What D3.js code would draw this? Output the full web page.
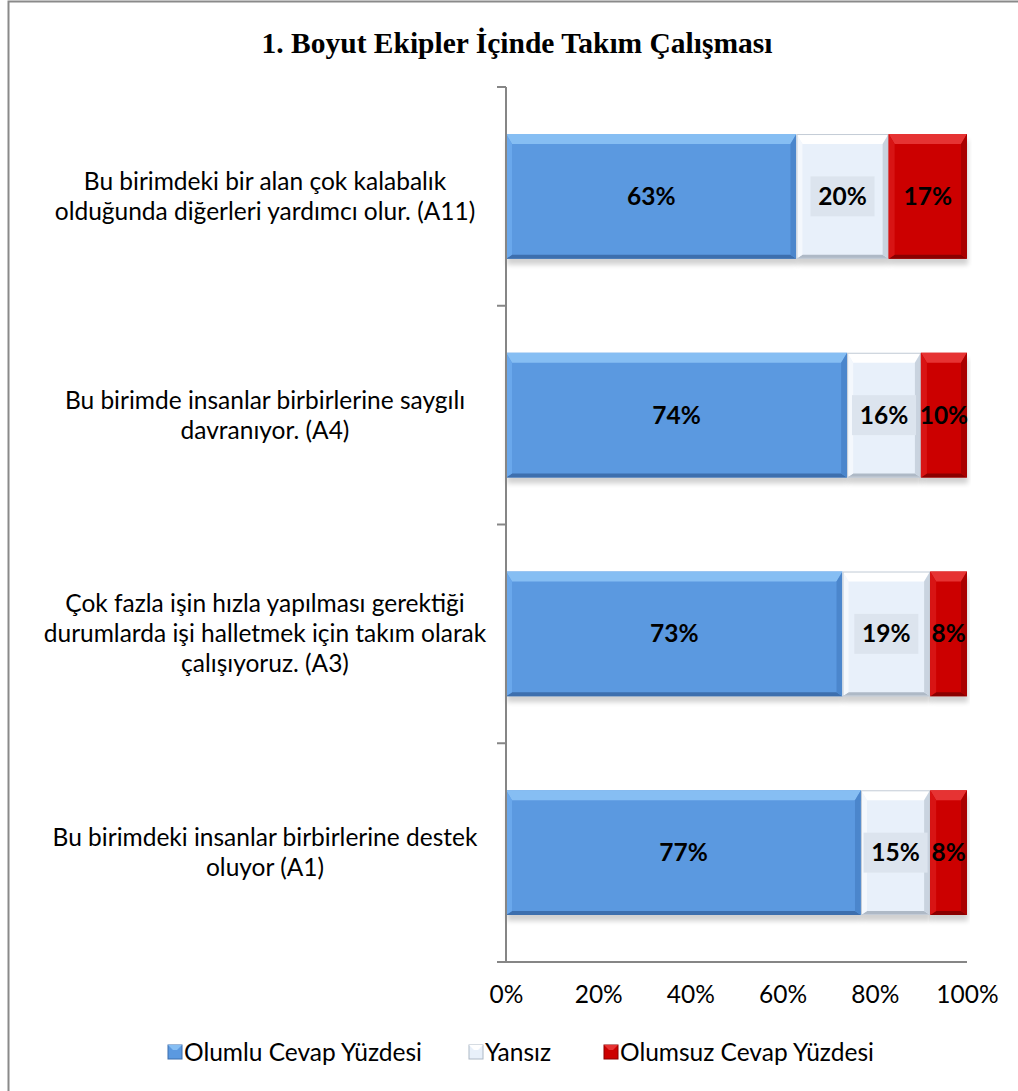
<!DOCTYPE html>
<html>
<head>
<meta charset="utf-8">
<script src="https://cdn.jsdelivr.net/npm/d3@7"></script>
<style>
  body { margin: 0; background: #fff; }
  svg { display: block; }
</style>
</head>
<body>
<div id="chart"></div>
<script>
// data
const categories = [
  ["Bu birimdeki bir alan çok kalabalık", "olduğunda diğerleri yardımcı olur. (A11)"],
  ["Bu birimde insanlar birbirlerine saygılı", "davranıyor. (A4)"],
  ["Çok fazla işin hızla yapılması gerektiği", "durumlarda işi halletmek için takım olarak", "çalışıyoruz. (A3)"],
  ["Bu birimdeki insanlar birbirlerine destek", "oluyor (A1)"]
];
const keys = ["A11", "A4", "A3", "A1"];
const olumlu = [63, 74, 73, 77];
const yansiz = [20, 16, 19, 15];
const olumsuz = [17, 10, 8, 8];
const seriesNames = ["Olumlu Cevap Yüzdesi", "Yansız", "Olumsuz Cevap Yüzdesi"];
const tickValues = [0, 20, 40, 60, 80, 100];

const W = 1018, H = 1091;
const margin = {top: 87, left: 506, right: 51, bottom: 129};
const fontSize = "24.5px";

// colours per series: main, top, left, right, bottom
const pal = [
  {main: "#5b99e0", top: "#86bef3", left: "#6aa8ec", right: "#4b86cc", bottom: "#3d6fae"},
  {main: "#e8f0fa", top: "#ffffff", left: "#f4f8fd", right: "#c9d3df", bottom: "#aeb9c6"},
  {main: "#cc0000", top: "#e63333", left: "#d81414", right: "#a90000", bottom: "#8a0000"}
];

const svg = d3.select("#chart").append("svg")
  .attr("width", W)
  .attr("height", H)
  .style("font-family", "Lato, 'Open Sans', sans-serif");

const defs = svg.append("defs");
defs.append("filter").attr("id", "shadow")
  .attr("x", "-5%").attr("y", "-10%").attr("width", "110%").attr("height", "130%")
  .append("feGaussianBlur").attr("stdDeviation", 2.5);

// outer frame
svg.append("rect")
  .attr("x", 8.5).attr("y", 1.5)
  .attr("width", W + 20).attr("height", H + 20)
  .attr("fill", "#fff").attr("stroke", "#8a8a8a").attr("stroke-width", 2);

// title
svg.append("text")
  .attr("x", 517).attr("y", 53)
  .attr("text-anchor", "middle")
  .style("font-family", "'Liberation Serif', 'Times New Roman', serif")
  .style("font-weight", "bold")
  .style("font-size", "29.5px")
  .text("1. Boyut Ekipler İçinde Takım Çalışması");

const x = d3.scaleLinear().domain([0, 100]).range([margin.left, W - margin.right]);
const y = d3.scaleBand().domain(keys).range([margin.top, H - margin.bottom])
  .paddingInner(0.43).paddingOuter(0.215);

const rows = keys.map((k, i) => {
  const vals = [olumlu[i], yansiz[i], olumsuz[i]];
  let acc = 0;
  return vals.map((v, s) => {
    const seg = {key: k, s, v, x0: acc, x1: acc + v};
    acc += v;
    return seg;
  });
}).flat();

const g = svg.append("g");

// shadows
g.append("g").selectAll("rect").data(rows).join("rect")
  .attr("x", d => x(d.x0) + 1)
  .attr("y", d => y(d.key) + 6)
  .attr("width", d => x(d.x1) - x(d.x0))
  .attr("height", y.bandwidth())
  .attr("fill", "#000").attr("opacity", 0.18)
  .attr("filter", "url(#shadow)");

const seg = g.append("g").selectAll("g").data(rows).join("g");
seg.append("rect")
  .attr("x", d => x(d.x0))
  .attr("y", d => y(d.key))
  .attr("width", d => x(d.x1) - x(d.x0))
  .attr("height", y.bandwidth())
  .attr("fill", d => pal[d.s].main);

const bt = 10, bb = 4, bs = 6;
const poly = (d, side) => {
  const a = x(d.x0), b = x(d.x1), t = y(d.key), u = t + y.bandwidth();
  const p = {
    top: [[a, t], [b, t], [b - bs, t + bt], [a + bs, t + bt]],
    bottom: [[a, u], [b, u], [b - bs, u - bb], [a + bs, u - bb]],
    left: [[a, t], [a + bs, t + bt], [a + bs, u - bb], [a, u]],
    right: [[b, t], [b - bs, t + bt], [b - bs, u - bb], [b, u]]
  }[side];
  return p.map(q => q.join(",")).join(" ");
};
["top", "bottom", "left", "right"].forEach(side => {
  seg.append("polygon")
    .attr("points", d => poly(d, side))
    .attr("fill", d => pal[d.s][side]);
});
seg.append("rect")
  .attr("x", d => x(d.x0) + 0.5)
  .attr("y", d => y(d.key) + 0.5)
  .attr("width", d => x(d.x1) - x(d.x0) - 1)
  .attr("height", y.bandwidth() - 1)
  .attr("fill", "none")
  .attr("stroke", d => d.s === 1 ? "#c4ccd6" : "none")
  .attr("stroke-width", 1);

// data labels
const lab = g.append("g").selectAll("g").data(rows).join("g")
  .attr("transform", d => `translate(${(x(d.x0) + x(d.x1)) / 2},${y(d.key) + y.bandwidth() / 2})`);
lab.filter(d => d.s === 1).append("rect")
  .attr("x", -32).attr("y", -20).attr("width", 64).attr("height", 40)
  .attr("fill", "#dce4ee");
lab.append("text")
  .attr("text-anchor", "middle")
  .attr("dy", "0.35em")
  .style("font-weight", "bold")
  .style("font-size", fontSize)
  .attr("fill", "#000")
  .text(d => d.v + "%");

// y axis: ticks sit on the band boundaries
const boundaries = d3.range(keys.length + 1).map(i => margin.top + i * (H - margin.bottom - margin.top) / keys.length);
const axisG = svg.append("g");
axisG.append("line")
  .attr("x1", x(0)).attr("x2", x(0))
  .attr("y1", margin.top).attr("y2", H - margin.bottom)
  .attr("stroke", "#868686").attr("stroke-width", 2);
axisG.selectAll(".tk").data(boundaries).join("line")
  .attr("x1", x(0) - 9).attr("x2", x(0))
  .attr("y1", d => d).attr("y2", d => d)
  .attr("stroke", "#868686").attr("stroke-width", 2);
axisG.append("line")
  .attr("x1", x(0) - 9).attr("x2", x(100))
  .attr("y1", H - margin.bottom).attr("y2", H - margin.bottom)
  .attr("stroke", "#868686").attr("stroke-width", 2);

// category labels
const cat = svg.append("g").selectAll("text").data(keys).join("text")
  .attr("text-anchor", "middle")
  .style("font-size", fontSize)
  .attr("fill", "#000");
cat.each(function(k, i) {
  const lines = categories[i];
  const cy = y(k) + y.bandwidth() / 2;
  d3.select(this).selectAll("tspan").data(lines).join("tspan")
    .attr("x", 265)
    .attr("y", (d, j) => cy + (j - (lines.length - 1) / 2) * 30)
    .attr("dy", "0.35em")
    .text(d => d);
});

// x tick labels
const xAxis = d3.axisBottom(x).tickValues(tickValues).tickSize(0).tickPadding(24)
  .tickFormat(d => d + "%");
const xa = svg.append("g")
  .attr("transform", `translate(0,${H - margin.bottom})`)
  .call(xAxis);
xa.select(".domain").remove();
xa.selectAll("text")
  .style("font-family", "Lato, 'Open Sans', sans-serif")
  .style("font-size", fontSize)
  .attr("fill", "#000");

// legend
const legX = [168, 469, 604];
const leg = svg.append("g").selectAll("g").data(seriesNames).join("g")
  .attr("transform", (d, i) => `translate(${legX[i]},1045)`);
leg.append("rect").attr("width", 14).attr("height", 14)
  .attr("fill", (d, i) => pal[i].main)
  .attr("stroke", (d, i) => pal[i].bottom).attr("stroke-width", 1);
leg.append("polygon").attr("points", "0,0 14,0 9,5 5,5")
  .attr("fill", (d, i) => pal[i].top);
leg.append("text")
  .attr("x", 16).attr("y", 7).attr("dy", "0.35em")
  .style("font-size", fontSize)
  .text(d => d);
</script>
</body>
</html>
